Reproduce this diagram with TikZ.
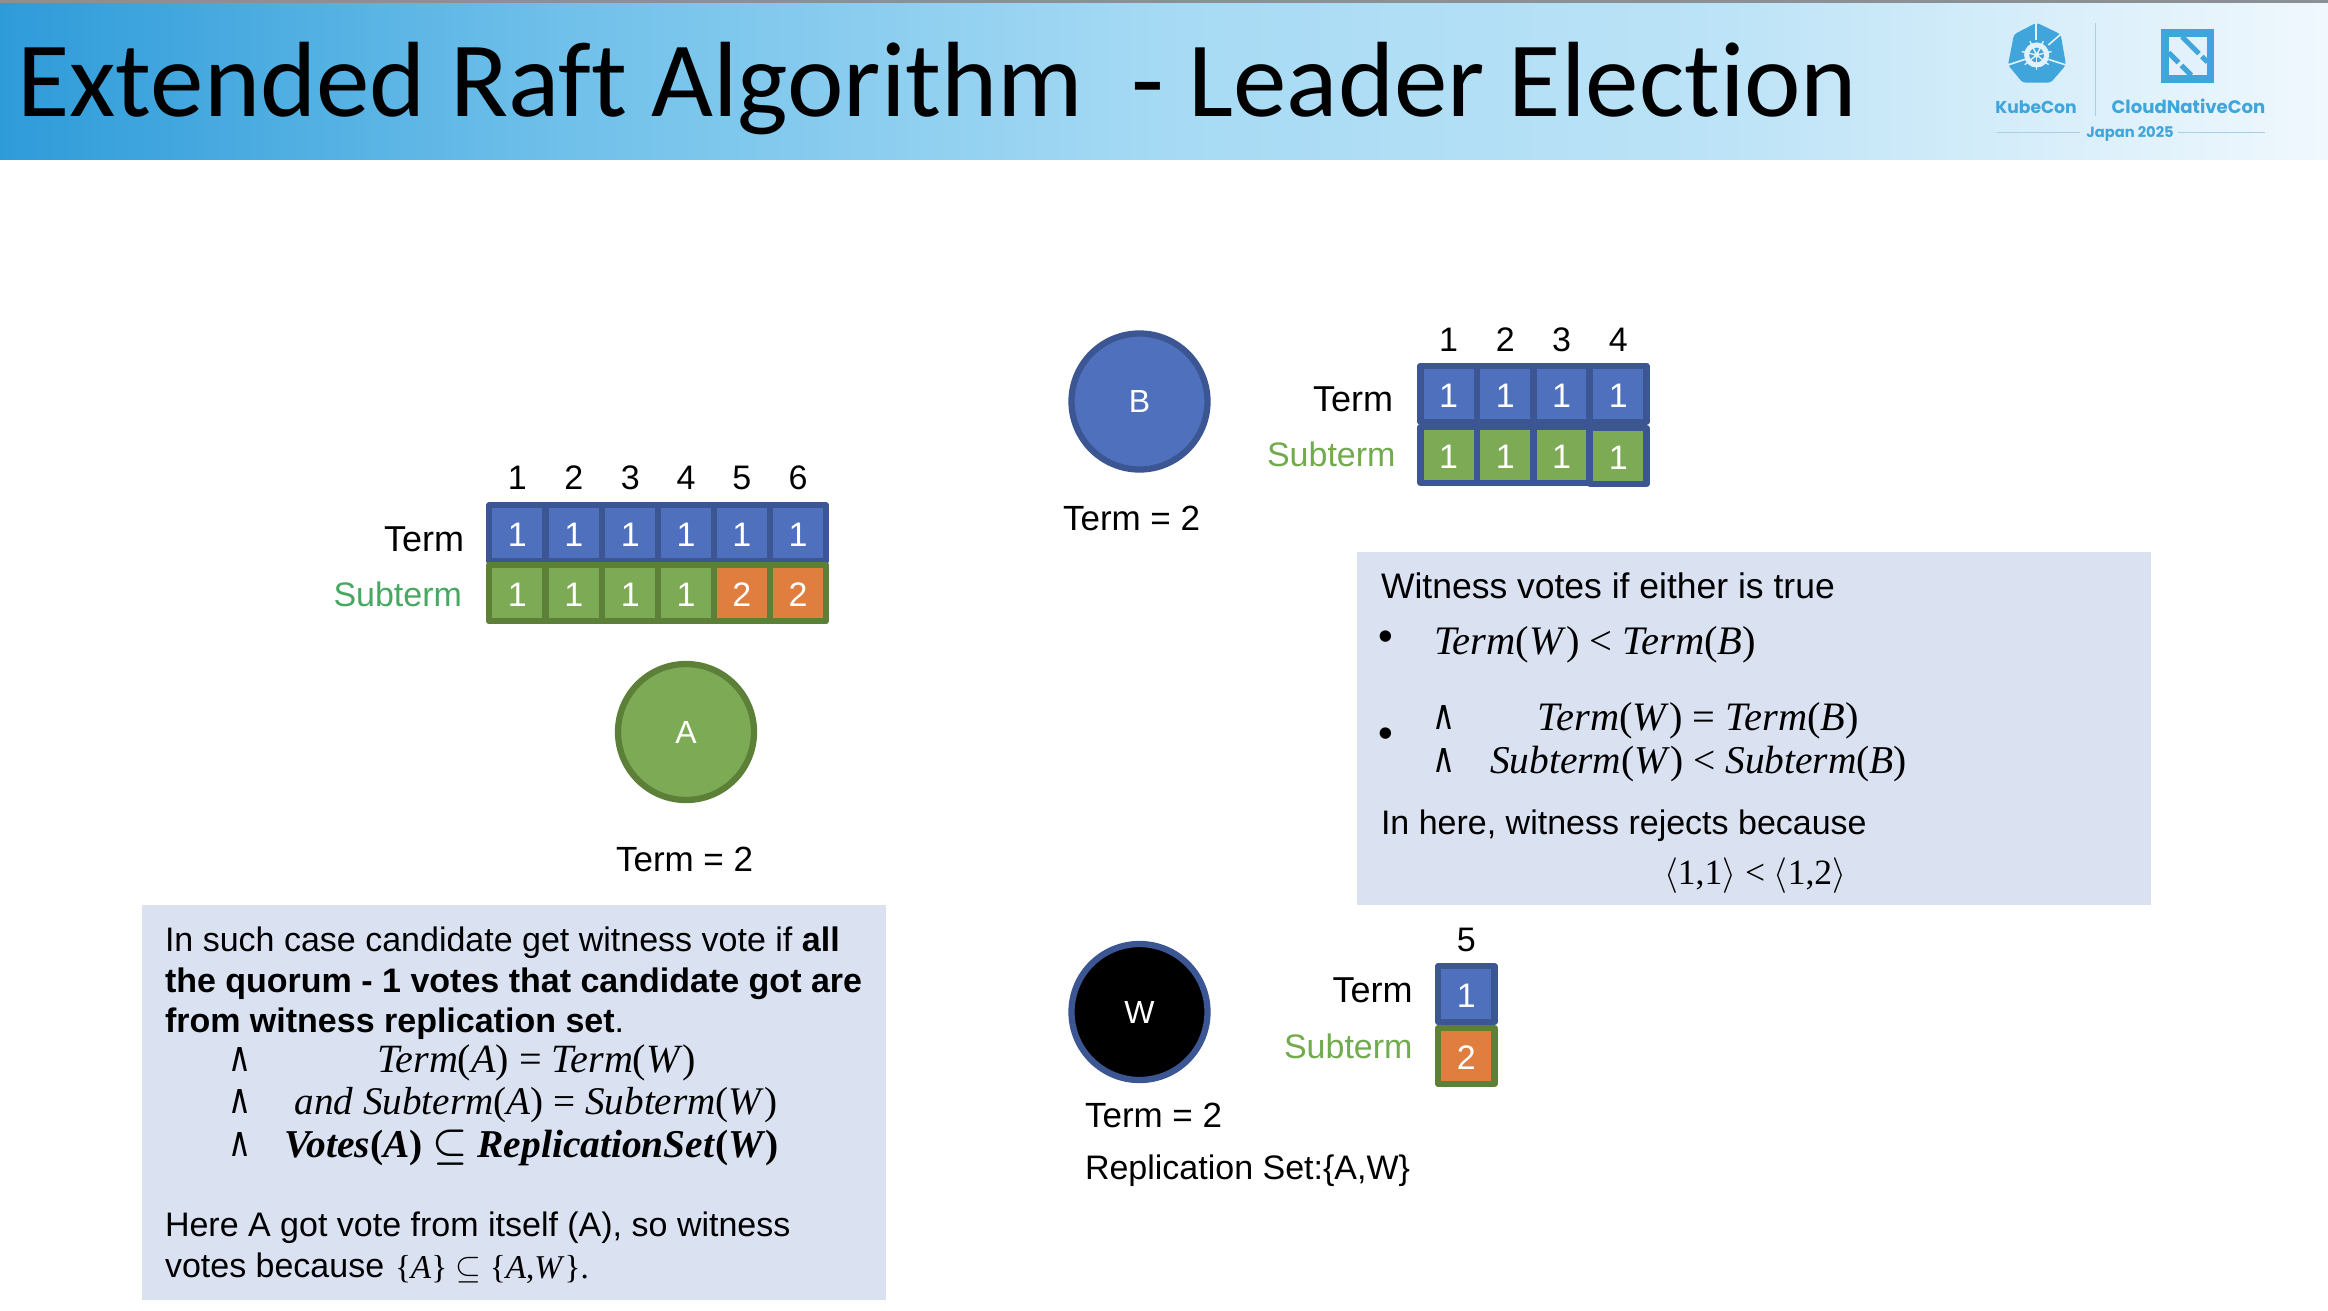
\documentclass[tikz,border=0pt]{standalone}
\usepackage{fontspec}
\usepackage{graphicx}
\setsansfont{Liberation Sans}
\newfontfamily\titlefont[Ligatures=NoCommon]{Carlito}
\newfontfamily\logofont{Poppins}
\newfontfamily\eqfont{Liberation Serif}
\newfontfamily\wedgefont{DejaVu Sans}
\usetikzlibrary{calc}
\definecolor{bandA}{HTML}{2E9BD9}
\definecolor{bandB}{HTML}{6FC0EA}
\definecolor{bandC}{HTML}{A6DAF4}
\definecolor{bandD}{HTML}{F0F8FD}
\definecolor{topgray}{HTML}{8A9094}
\definecolor{logoblue}{HTML}{3FA5DB}
\definecolor{logopale}{HTML}{E2F1FB}
\definecolor{logoline}{HTML}{A9CFE6}
\definecolor{cellblue}{HTML}{4E70BD}
\definecolor{edgeblue}{HTML}{3B5692}
\definecolor{cellgreen}{HTML}{7DAA55}
\definecolor{edgegreen}{HTML}{5D8039}
\definecolor{cellorange}{HTML}{DF7E3F}
\definecolor{boxfill}{HTML}{DAE1F1}
\definecolor{subA}{HTML}{48A862}
\definecolor{subB}{HTML}{72AB4E}
\pgfdeclarehorizontalshading{bannershade}{100bp}{color(0bp)=(bandA); color(25bp)=(bandA); color(37bp)=(bandB); color(50bp)=(bandC); color(62bp)=(bandC!70!bandD); color(75bp)=(bandD); color(100bp)=(bandD)}
\newcommand{\mi}[1]{\textit{#1}}
\tikzset{
  txt/.style={inner sep=0pt,outer sep=0pt,anchor=base west,font=\sffamily\fontsize{34}{40}\selectfont},
  txtr/.style={txt,anchor=base east},
  txtc/.style={txt,anchor=base},
  termlbl/.style={txtr,font=\sffamily\fontsize{36}{40}\selectfont},
  valtxt/.style={txt,font=\sffamily\fontsize{35}{40}\selectfont},
  para/.style={txt},
  cell/.style={draw,line width=6.3pt,line join=round,minimum width=56.2pt,minimum height=56pt,inner sep=0pt,text height=27.3pt,text depth=0pt,text=white,font=\sffamily\fontsize{34}{40}\selectfont},
  tb/.style={cell,fill=cellblue,draw=edgeblue},
  tg/.style={cell,fill=cellgreen,draw=edgegreen},
  to/.style={cell,fill=cellorange,draw=edgegreen},
  tbg/.style={cell,fill=cellgreen,draw=edgeblue},
  srv/.style={circle,line width=6.3pt,minimum size=136pt,inner sep=0pt,text=white,font=\sffamily\fontsize{32}{36}\selectfont},
  infobox/.style={fill=boxfill,draw=none},
  eqn/.style={inner sep=0pt,outer sep=0pt,anchor=base west,font=\eqfont},
  wedgemark/.style={inner sep=0pt,outer sep=0pt,anchor=base},
  bullet/.style={inner sep=0pt,outer sep=0pt,anchor=center,font=\sffamily\fontsize{42}{42}\selectfont},
  logotxt/.style={inner sep=0pt,outer sep=0pt,anchor=base,text=logoblue,font=\logofont\bfseries\fontsize{17.2}{20}\selectfont},
}
\newcommand{\wdg}{\resizebox{23pt}{24pt}{\wedgefont ∧}}
\begin{document}
\begin{tikzpicture}[x=1pt,y=-1pt]
\useasboundingbox (0,0) rectangle (2328,1310);
% banner
\fill[shading=bannershade] (0,0) rectangle (2328,159);
\fill[topgray] (0,0) rectangle (2328,2.5);
\node[inner sep=0pt,anchor=base west,font=\titlefont\fontsize{107}{120}\selectfont] (title) at (17,116) {Extended Raft Algorithm\ \ - Leader Election};
% logo
\begin{scope}[shift={(1900,0)},x=0.3333pt,y=-0.3333pt]
  \fill[logoblue,rounded corners=3pt] (410,68) -- (482,103) -- (498,195) -- (452,248) -- (368,248) -- (324,195) -- (342,103) -- cycle;
  \draw[logopale,line width=1.6pt] (408,68) -- (408,120);
  \draw[logopale,line width=1.6pt] (324,195) -- (375,178);
  \draw[logopale,line width=1.6pt] (498,195) -- (445,178);
  \draw[logopale,line width=1.6pt] (482,103) -- (445,135);
  \draw[logopale,line width=5pt] (410,165) circle (30);
  \foreach \a in {0,51,103,154,206,257,309}
    \draw[logopale,line width=1.4pt] (410,165) -- ++(\a+90:46);
  \fill[logopale] (410,165) circle (8);
  \fill[logoblue] (783,88) rectangle (943,248);
  \fill[logopale] (806,110) rectangle (922,226);
  \draw[logoblue,line width=5pt,dash pattern=on 24pt off 4pt] (846,110) -- (922,186);
  \draw[logoblue,line width=5pt,dash pattern=on 14pt off 4pt] (806,158) -- (874,226);
  \draw[logoline,line width=0.8pt] (586,70) -- (586,348);
  \draw[logoline,line width=0.8pt] (290,397) -- (540,397);
  \draw[logoline,line width=0.8pt] (835,397) -- (1095,397);
\end{scope}
\node[logotxt] (kube) at (2036,113) {KubeCon};
\node[logotxt,font=\logofont\bfseries\fontsize{18.1}{20}\selectfont] (cncf) at (2188.5,113) {CloudNativeCon};
\node[logotxt,font=\logofont\bfseries\fontsize{14.7}{18}\selectfont] (japan) at (2130,137) {Japan 2025};
% info boxes
\fill[infobox] (142,905) rectangle (886,1300);
\fill[infobox] (1357,552) rectangle (2151,905);
% group A
\foreach \i/\cx/\v in {1/517.2/1,2/573.7/1,3/630.2/1,4/686/1,5/741.9/1,6/798/1}{
  \node[tb] (At\i) at (\cx,533.3) {\v};
  \node[txtc] (An\i) at (\cx,489) {\i};
}
\foreach \i/\cx/\v/\st in {1/517.2/1/tg,2/573.7/1/tg,3/630.2/1/tg,4/686/1/tg,5/741.9/2/to,6/798/2/to}{
  \node[\st] (As\i) at (\cx,593.3) {\v};
}
\node[termlbl] (Aterm) at (464,551.7) {Term};
\node[txtr,text=subA] (Asub) at (462,606.7) {Subterm};
\node[srv,fill=cellgreen,draw=edgegreen] (A) at (686,732) {A};
\node[valtxt] (Aval) at (616,871) {Term = 2};
% group B
\foreach \i/\cx in {1/1448.6,2/1505.3,3/1561.5,4/1618.3}{
  \node[tb] (Bt\i) at (\cx,393.7) {1};
  \node[txtc] (Bn\i) at (\cx,351.7) {\i};
}
\foreach \i/\cx/\cy in {1/1448.6/455,2/1505.3/455,3/1561.5/455,4/1618.3/456}{
  \node[tbg] (Bs\i) at (\cx,\cy) {1};
}
\node[termlbl] (Bterm) at (1393,411.7) {Term};
\node[txtr,text=subB] (Bsub) at (1395.5,466.7) {Subterm};
\node[srv,fill=cellblue,draw=edgeblue] (B) at (1139.5,401.5) {B};
\node[valtxt] (Bval) at (1063,530.5) {Term = 2};
% group W
\node[tb] (Wt) at (1466.3,994) {1};
\node[to] (Ws) at (1466.3,1056) {2};
\node[txtc] (Wn) at (1466.3,951.5) {5};
\node[termlbl] (Wterm) at (1412.5,1002) {Term};
\node[txtr,text=subB] (Wsub) at (1412.5,1058) {Subterm};
\node[srv,fill=black,draw=edgeblue] (W) at (1139.5,1012) {W};
\node[valtxt] (Wval) at (1085,1127) {Term = 2};
\node[txt] (Wrep) at (1085,1179) {Replication Set:\{A,W\}};
% left box text
\node[para] (L1) at (165,951) {In such case candidate get witness vote if \textbf{all}};
\node[para] (L2) at (165,992) {\textbf{the quorum - 1 votes that candidate got are}};
\node[para] (L3) at (165,1032.5) {\textbf{from witness replication set}.};
\node[wedgemark] (Lw1) at (240,1071.7) {\wdg};
\node[wedgemark] (Lw2) at (240,1113.7) {\wdg};
\node[wedgemark] (Lw3) at (240,1156) {\wdg};
\node[eqn] (Le1) at (377,1072.7) {\resizebox{319pt}{!}{\mi{Term}(\mi{A}) = \mi{Term}(\mi{W})}};
\node[eqn] (Le2) at (294.5,1114.7) {\resizebox{483pt}{!}{\mi{and Subterm}(\mi{A}) = \mi{Subterm}(\mi{W})}};
\node[eqn] (Le3) at (284.7,1157) {\resizebox{494pt}{!}{\boldmath\bfseries\mi{Votes}(\mi{A}) $\subseteq$ \mi{ReplicationSet}(\mi{W})}};
\node[para] (L4) at (165,1236) {Here A got vote from itself (A), so witness};
\node[para] (L5) at (165,1277) {votes because};
\node[eqn] (Le4) at (395,1278) {\resizebox{194pt}{!}{\{\mi{A}\} $\subseteq$ \{\mi{A},\mi{W}\}.}};
% right box text
\node[para,font=\sffamily\fontsize{35.5}{40}\selectfont] (R1) at (1381,598) {Witness votes if either is true};
\node[bullet] (Rb1) at (1386,641) {•};
\node[eqn] (Re1) at (1434,654.7) {\resizebox{322pt}{!}{\mi{Term}(\mi{W}) < \mi{Term}(\mi{B})}};
\node[wedgemark] (Rw1) at (1443.6,729) {\wdg};
\node[eqn] (Re2) at (1537.7,730) {\resizebox{321pt}{!}{\mi{Term}(\mi{W}) = \mi{Term}(\mi{B})}};
\node[bullet] (Rb2) at (1386,738) {•};
\node[wedgemark] (Rw2) at (1443.6,772.7) {\wdg};
\node[eqn] (Re3) at (1490,773.7) {\resizebox{417pt}{!}{\mi{Subterm}(\mi{W}) < \mi{Subterm}(\mi{B})}};
\node[para] (R2) at (1381,834) {In here, witness rejects because};
\node[eqn] (Re4) at (1664,884) {\resizebox{182pt}{!}{$\langle$1,1$\rangle$ < $\langle$1,2$\rangle$}};
\end{tikzpicture}
\end{document}
